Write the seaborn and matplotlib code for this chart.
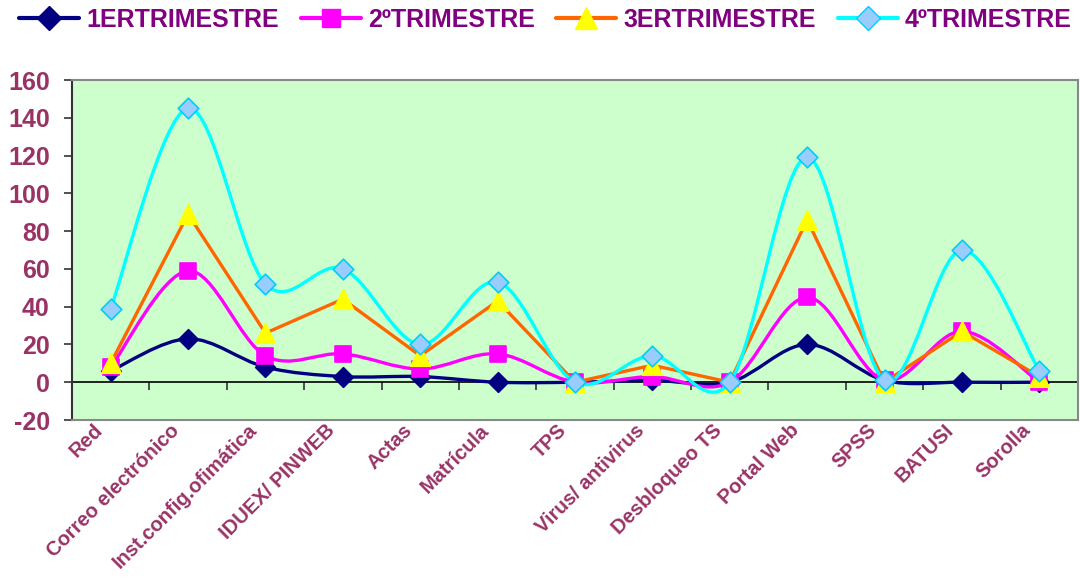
import numpy as np
import pandas as pd
import matplotlib
matplotlib.use("Agg")
import matplotlib.pyplot as plt
from matplotlib.path import Path
from matplotlib.patches import PathPatch
from matplotlib.lines import Line2D
from matplotlib.transforms import ScaledTranslation
import seaborn as sns

# data
categorias = ["Red", "Correo electrónico", "Inst.config.ofimática", "IDUEX/ PINWEB",
              "Actas", "Matrícula", "TPS", "Virus/ antivirus", "Desbloqueo TS",
              "Portal Web", "SPSS", "BATUSI", "Sorolla"]
trim1 = [6, 23, 8, 3, 3, 0, 0, 1, 0, 20, 1, 0, 0]
trim2 = [8, 59, 14, 15, 7, 15, 0, 3, 0, 45, 1, 27, 0]
trim3 = [10, 89, 26, 44, 14, 43, 0, 9, 0, 86, 0, 27, 3]
trim4 = [39, 145, 52, 60, 20, 53, 0, 14, 0, 119, 1, 70, 6]
series = ["1ERTRIMESTRE", "2ºTRIMESTRE", "3ERTRIMESTRE", "4ºTRIMESTRE"]

sns.set_theme(style="white")
plt.rcParams["font.family"] = ["Liberation Sans", "DejaVu Sans"]
plt.rcParams["axes.unicode_minus"] = False

label_col = "#993366"
legend_col = "#800080"

# style per series: line colour, marker, face, edge, size, smoothed line
estilos = {
    series[0]: dict(color="#000080", marker="D", face="#000080", edge="#000080", ms=10, smooth=True),
    series[1]: dict(color="#FF00FF", marker="s", face="#FF00FF", edge="#FF00FF", ms=11, smooth=True),
    series[2]: dict(color="#FF6600", marker="^", face="#FFFF00", edge="#FFFF00", ms=14, smooth=False),
    series[3]: dict(color="#00FFFF", marker="D", face="#99CCFF", edge="#00CCFF", ms=10.5, smooth=True),
}

df = pd.DataFrame({
    "pos": np.tile(np.arange(len(categorias)), 4),
    "valor": trim1 + trim2 + trim3 + trim4,
    "serie": np.repeat(series, len(categorias)),
})


def smooth_path(x, y):
    # Excel-like smoothed line: cubic Bezier through points (Catmull-Rom style)
    pts = np.column_stack([x, y]).astype(float)
    n = len(pts)
    verts = [pts[0]]
    codes = [Path.MOVETO]
    for i in range(n - 1):
        p0 = pts[i - 1] if i > 0 else pts[i]
        p1 = pts[i]
        p2 = pts[i + 1]
        p3 = pts[i + 2] if i + 2 < n else pts[i + 1]
        c1 = p1 + (p2 - p0) / 6.0
        c2 = p2 - (p3 - p1) / 6.0
        verts += [c1, c2, p2]
        codes += [Path.CURVE4] * 3
    return Path(verts, codes)


fig = plt.figure(figsize=(10.8, 5.83), dpi=100)
ax = fig.add_axes([72 / 1080, 1 - 420 / 583, 1006 / 1080, 340 / 583])
ax.set_facecolor("#CCFFCC")

for k, s in enumerate(series):
    st = estilos[s]
    sub = df[df["serie"] == s]
    z = 3 + 2 * k
    if st["smooth"]:
        patch = PathPatch(smooth_path(sub["pos"], sub["valor"]), facecolor="none",
                          edgecolor=st["color"], lw=2.4, zorder=z, capstyle="round",
                          joinstyle="round", transform=ax.transData)
        ax.add_patch(patch)
    else:
        sns.lineplot(data=sub, x="pos", y="valor", color=st["color"], lw=2.4,
                     ax=ax, zorder=z, legend=False)
    sns.scatterplot(data=sub, x="pos", y="valor", marker=st["marker"], s=st["ms"] ** 2,
                    color=st["face"], edgecolor=st["edge"], linewidth=1.2,
                    ax=ax, zorder=z + 1, legend=False)

ax.set_xlim(-0.5, len(categorias) - 0.5)
ax.set_ylim(-20, 160)
ax.set_yticks(range(-20, 161, 20))
ax.set_xticks(range(len(categorias)))
ax.set_xticklabels(categorias, rotation=45, ha="right", rotation_mode="anchor",
                   fontsize=14.5, color=label_col, fontweight="bold")
ax.tick_params(axis="x", length=0, pad=2)
desplaza = ScaledTranslation(-18 / 100, 2 / 100, fig.dpi_scale_trans)
for t in ax.get_xticklabels():
    t.set_transform(t.get_transform() + desplaza)
ax.tick_params(axis="y", left=True, length=6, width=1.2, colors="#333333",
               labelcolor=label_col, labelsize=18, pad=10)
for t in ax.get_yticklabels():
    t.set_fontweight("bold")
ax.set_xlabel("")
ax.set_ylabel("")

for side in ["top", "bottom", "right"]:
    ax.spines[side].set_color("#888888")
    ax.spines[side].set_linewidth(1.5)
ax.spines["left"].set_color("#333333")
ax.spines["left"].set_linewidth(1.5)

# category axis crossing at y = 0, ticks between categories
eje = ax.secondary_xaxis(20 / 180)
eje.set_xticks(np.arange(0.5, len(categorias) - 1, 1.0))
eje.set_xticklabels([])
eje.tick_params(axis="x", direction="out", length=6, width=1.2, colors="#333333")
eje.spines["bottom"].set_color("black")
eje.spines["bottom"].set_linewidth(1.2)
eje.set_zorder(2)

handles = []
for s in series:
    st = estilos[s]
    handles.append(Line2D([], [], color=st["color"], lw=3, marker=st["marker"],
                          markersize=st["ms"] + 2, markerfacecolor=st["face"],
                          markeredgecolor=st["edge"]))
leg = fig.legend(handles, series, loc="upper left", bbox_to_anchor=(-0.003, 1.025), ncol=4,
                 frameon=False, handlelength=2.4, columnspacing=0.85, handletextpad=0.3,
                 prop={"size": 18, "weight": "bold"})
for t in leg.get_texts():
    t.set_color(legend_col)

fig.savefig("out.png", dpi=100)
